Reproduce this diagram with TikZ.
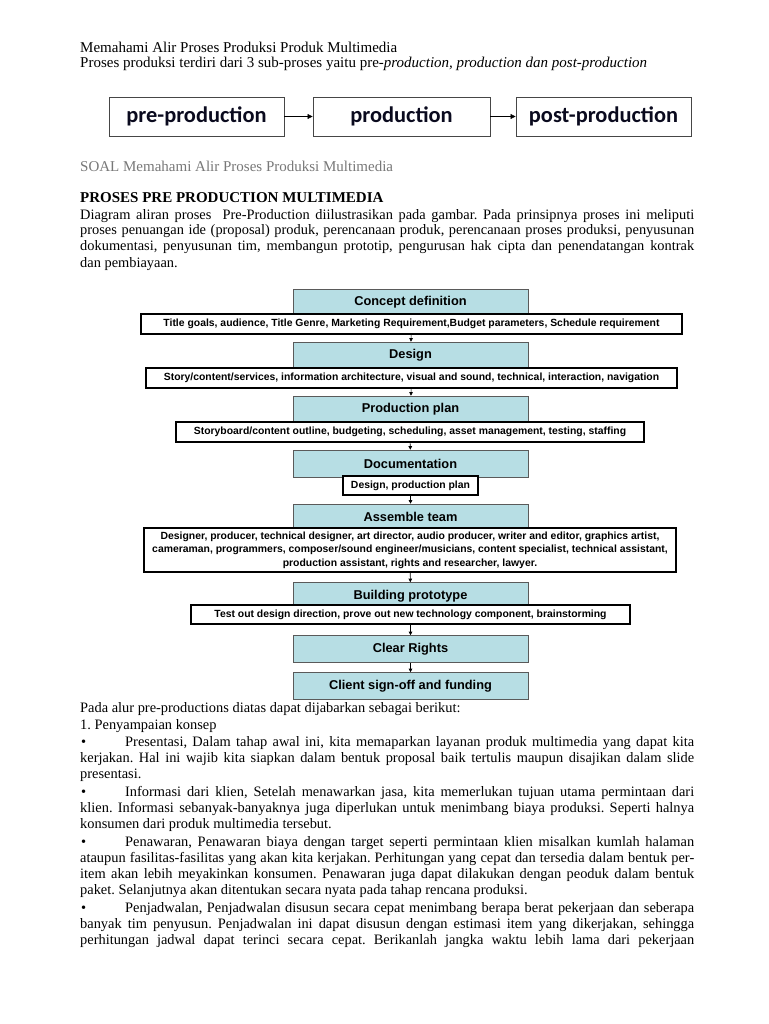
\documentclass[tikz,border=0pt]{standalone}
\usepackage{fontspec}
\setmainfont{Liberation Serif}
\newfontfamily\arialf{Liberation Sans}
\newfontfamily\carlf{Carlito}
\usetikzlibrary{arrows.meta}
\definecolor{tealfill}{RGB}{183,222,228}
\definecolor{soalgray}{RGB}{120,120,120}
\definecolor{inkblue}{RGB}{10,10,30}
\newcommand{\jl}[2]{\makebox[#1pt][s]{#2}}
\frenchspacing
\tikzset{
  body/.style={anchor=base west, inner sep=0pt, font=\frenchspacing\fontsize{14.4}{16}\selectfont},
  upper/.style={body, font=\frenchspacing\fontsize{15}{16}\selectfont},
  topbox/.style={draw={rgb,255:red,70;green,70;blue,70}, line width=0.9pt, fill=white, minimum height=39pt, inner sep=0pt, text=inkblue, font=\carlf\bfseries\fontsize{22.4}{24}\selectfont},
  stepbox/.style={draw={rgb,255:red,90;green,90;blue,90}, line width=0.6pt, fill=tealfill, minimum width=235pt, minimum height=27pt, inner sep=0pt, font=\arialf\bfseries\fontsize{12.8}{14}\selectfont},
  infobox/.style={draw=black, line width=1.1pt, fill=white, minimum height=20pt, inner sep=0pt, font=\arialf\bfseries\fontsize{10.4}{13.5}\selectfont},
  toparrow/.style={-{Triangle[length=5pt,width=5pt]}, line width=0.6pt},
  steparrow/.style={-{Triangle[length=3.5pt,width=3.5pt]}, line width=0.6pt},
}
\begin{document}
\begin{tikzpicture}[x=1pt,y=-1pt]
\useasboundingbox[fill=white] (0,0) rectangle (768,1024);

% header text
\node[upper] (h1) at (80,53) {Memahami Alir Proses Produksi Produk Multimedia};
\node[upper] (h2) at (80,68) {Proses produksi terdiri dari 3 sub-proses yaitu pre-\textit{production, production dan post-production}};

% top process
\node[topbox, minimum width=175pt] (pre) at (196.5,116.5) {pre-production};
\node[topbox, minimum width=177pt] (prod) at (401.5,116.5) {production};
\node[topbox, minimum width=175pt] (post) at (603.5,116.5) {post-production};
\draw[toparrow] (pre) -- (prod);
\draw[toparrow] (prod) -- (post);

\node[upper, text=soalgray] (soal) at (80,172) {SOAL Memahami Alir Proses Produksi Multimedia};
\node[upper, font=\bfseries\fontsize{15}{16}\selectfont] (head) at (80,203) {PROSES PRE PRODUCTION MULTIMEDIA};
\node[body] (p1) at (80,219) {\jl{614}{Diagram aliran proses \ Pre-Production diilustrasikan pada gambar. Pada prinsipnya proses ini meliputi}};
\node[body] (p2) at (80,235) {\jl{614}{proses penuangan ide (proposal) produk, perencanaan produk, perencanaan proses produksi, penyusunan}};
\node[body] (p3) at (80,251) {\jl{614}{dokumentasi, penyusunan tim, membangun prototip, pengurusan hak cipta dan penendatangan kontrak}};
\node[body] (p4) at (80,267) {dan pembiayaan.};

% flowchart
\node[stepbox] (concept) at (410.5,302.5) {Concept definition};
\node[infobox, minimum width=541pt] (cw) at (411.5,324) {Title goals, audience, Title Genre, Marketing Requirement,Budget parameters, Schedule requirement};
\node[stepbox] (design) at (410.5,355.5) {Design};
\node[infobox, minimum width=531pt] (dw) at (411.5,378) {Story/content/services, information architecture, visual and sound, technical, interaction, navigation};
\node[stepbox] (plan) at (410.5,409.5) {Production plan};
\node[infobox, minimum width=468pt] (pw) at (410,432) {Storyboard/content outline, budgeting, scheduling, asset management, testing, staffing};
\node[stepbox] (doc) at (410.5,463.5) {Documentation};
\node[infobox, minimum width=135pt, minimum height=19pt] (docw) at (410.5,485.5) {Design, production plan};
\node[stepbox, minimum height=26pt] (team) at (410.5,517) {Assemble team};
\node[infobox, minimum width=532pt, minimum height=44pt, align=center] (tw) at (410,550) {Designer, producer, technical designer, art director, audio producer, writer and editor, graphics artist,\\cameraman, programmers, composer/sound engineer/musicians, content specialist, technical assistant,\\production assistant, rights and researcher, lawyer.};
\node[stepbox] (build) at (410.5,596) {Building prototype};
\node[infobox, minimum width=439pt, minimum height=19pt] (bw) at (410.5,614.5) {Test out design direction, prove out new technology component, brainstorming};
\node[stepbox] (clear) at (410.5,649) {Clear Rights};
\node[stepbox] (client) at (410.5,686) {Client sign-off and funding};

\draw[steparrow] (cw) -- (design);
\draw[steparrow] (dw) -- (plan);
\draw[steparrow] (pw) -- (doc);
\draw[steparrow] (docw) -- (team);
\draw[steparrow] (tw) -- (build);
\draw[steparrow] (bw) -- (clear);
\draw[steparrow] (clear) -- (client);

% lower text
\node[body] (q1) at (80,712) {Pada alur pre-productions diatas dapat dijabarkan sebagai berikut:};
\node[body] (q2) at (80,729) {1. Penyampaian konsep};
\node[body] (b1) at (81,746) {•};
\node[body] (q3) at (125,746) {\jl{569}{Presentasi, Dalam tahap awal ini, kita memaparkan layanan produk multimedia yang dapat kita}};
\node[body] (q4) at (80,762) {\jl{614}{kerjakan. Hal ini wajib kita siapkan dalam bentuk proposal baik tertulis maupun disajikan dalam slide}};
\node[body] (q5) at (80,778) {presentasi.};
\node[body] (b2) at (81,796) {•};
\node[body] (q6) at (125,796) {\jl{569}{Informasi dari klien, Setelah menawarkan jasa, kita memerlukan tujuan utama permintaan dari}};
\node[body] (q7) at (80,812) {\jl{614}{klien. Informasi sebanyak-banyaknya juga diperlukan untuk menimbang biaya produksi. Seperti halnya}};
\node[body] (q8) at (80,828) {konsumen dari produk multimedia tersebut.};
\node[body] (b3) at (81,846) {•};
\node[body] (q9) at (125,846) {\jl{569}{Penawaran, Penawaran biaya dengan target seperti permintaan klien misalkan kumlah halaman}};
\node[body] (q10) at (80,862) {\jl{614}{ataupun fasilitas-fasilitas yang akan kita kerjakan. Perhitungan yang cepat dan tersedia dalam bentuk per-}};
\node[body] (q11) at (80,878) {\jl{614}{item akan lebih meyakinkan konsumen. Penawaran juga dapat dilakukan dengan peoduk dalam bentuk}};
\node[body] (q12) at (80,894) {paket. Selanjutnya akan ditentukan secara nyata pada tahap rencana produksi.};
\node[body] (b4) at (81,912) {•};
\node[body] (q13) at (125,912) {\jl{569}{Penjadwalan, Penjadwalan disusun secara cepat menimbang berapa berat pekerjaan dan seberapa}};
\node[body] (q14) at (80,928) {\jl{614}{banyak tim penyusun. Penjadwalan ini dapat disusun dengan estimasi item yang dikerjakan, sehingga}};
\node[body] (q15) at (80,944) {\jl{614}{perhitungan jadwal dapat terinci secara cepat. Berikanlah jangka waktu lebih lama dari pekerjaan}};
\end{tikzpicture}
\end{document}
